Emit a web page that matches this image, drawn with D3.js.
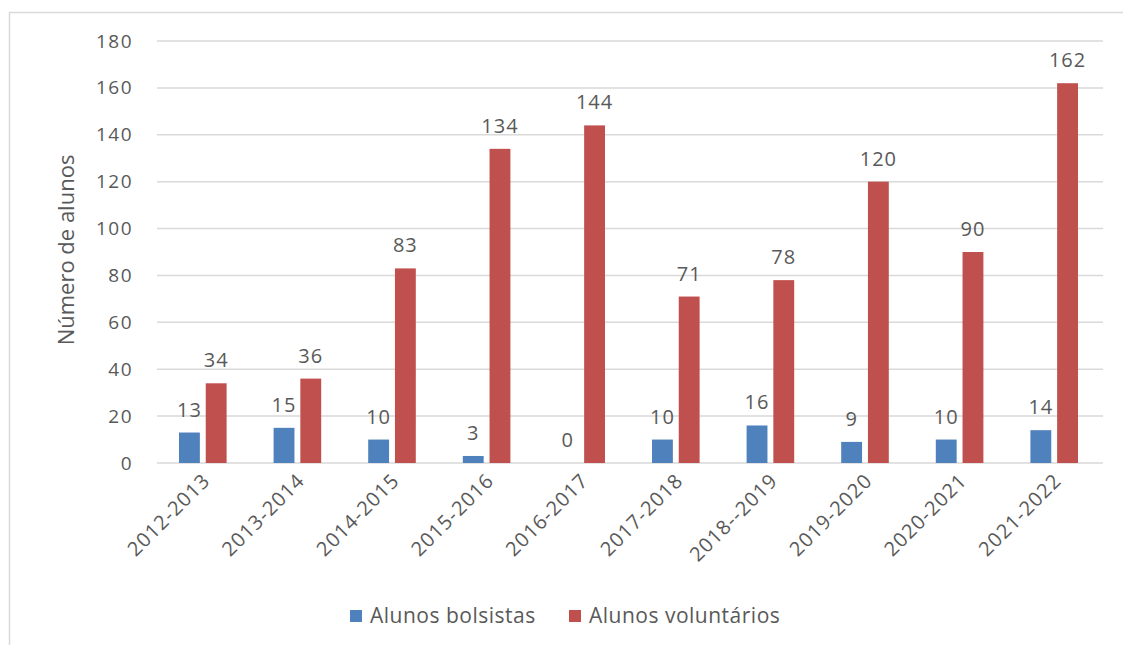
<!DOCTYPE html>
<html>
<head>
<meta charset="utf-8">
<script src="https://cdn.jsdelivr.net/npm/d3@7"></script>
<style>
  body { margin: 0; background: #fff; }
  text { font-family: "Open Sans", "DejaVu Sans", sans-serif; fill: #595959; }
</style>
</head>
<body>
<div id="vis"></div>
<script>
const margin = { top: 41, right: 20, bottom: 182, left: 157 };
const width = 1103 - margin.left;
const height = 463 - margin.top;

// data
const years = ['2012-2013', '2013-2014', '2014-2015', '2015-2016', '2016-2017',
               '2017-2018', '2018--2019', '2019-2020', '2020-2021', '2021-2022'];
const bolsistas = [13, 15, 10, 3, 0, 10, 16, 9, 10, 14];
const voluntarios = [34, 36, 83, 134, 144, 71, 78, 120, 90, 162];
const seriesNames = ['Alunos bolsistas', 'Alunos voluntários'];
const colors = ['#4f81bd', '#c0504d'];
const yTicks = [0, 20, 40, 60, 80, 100, 120, 140, 160, 180];

const root = d3.select('#vis')
    .append('svg')
    .attr('width', 1123)
    .attr('height', 645);

// outer frame of the chart
root.append('rect')
    .attr('x', 9.5).attr('y', 12.5)
    .attr('width', 1140).attr('height', 660)
    .style('fill', 'none')
    .style('stroke', '#d9d9d9')
    .style('stroke-width', 1.5);

const svg = root.append('g')
    .attr('transform', `translate(${margin.left},${margin.top})`);

const xScale = d3.scaleBand().domain(years).range([0, width]);
const xInner = d3.scaleBand().domain([0, 1]).range([22, xScale.bandwidth() - 25]).paddingInner(0.22);
const yScale = d3.scaleLinear().domain([0, 180]).range([height, 0]);

// gridlines
svg.selectAll('.grid')
    .data(yTicks)
    .join('line')
    .attr('class', 'grid')
    .attr('x1', 0).attr('x2', width)
    .attr('y1', d => yScale(d)).attr('y2', d => yScale(d))
    .style('stroke', '#d9d9d9')
    .style('stroke-width', 1.5);

// y axis
const yAxis = svg.append('g')
    .call(d3.axisLeft(yScale).tickValues(yTicks).tickSize(0).tickPadding(24));
yAxis.select('.domain').remove();
yAxis.selectAll('text').style('font-size', '19px').style('fill', '#595959')
    .style('letter-spacing', '1.5px')
    .style('font-family', '"Open Sans", sans-serif');

// x axis labels
const xAxis = svg.append('g')
    .attr('transform', `translate(0,${height})`)
    .call(d3.axisBottom(xScale).tickSize(0));
xAxis.select('.domain').remove();
xAxis.selectAll('text')
    .attr('text-anchor', 'end')
    .attr('transform', 'translate(2,14) rotate(-45)')
    .attr('dy', '0.35em')
    .attr('y', 0)
    .style('font-size', '20px')
    .style('letter-spacing', '1px')
    .style('fill', '#595959')
    .style('font-family', '"Open Sans", sans-serif');

// y title
svg.append('text')
    .attr('transform', 'rotate(-90)')
    .attr('x', -height / 2 + 2)
    .attr('y', -margin.left + 74)
    .attr('text-anchor', 'middle')
    .style('font-size', '22px')
    .text('Número de alunos');

const groups = [bolsistas, voluntarios];
groups.forEach((vals, s) => {
    svg.selectAll('.bar' + s)
        .data(vals)
        .join('rect')
        .attr('class', 'bar' + s)
        .attr('x', (d, i) => xScale(years[i]) + xInner(s))
        .attr('width', xInner.bandwidth())
        .attr('y', d => yScale(d))
        .attr('height', d => height - yScale(d))
        .style('fill', colors[s]);

    svg.selectAll('.lab' + s)
        .data(vals)
        .join('text')
        .attr('class', 'lab' + s)
        .attr('x', (d, i) => xScale(years[i]) + xInner(s) + xInner.bandwidth() / 2)
        .attr('y', d => yScale(d) - 16)
        .attr('text-anchor', 'middle')
        .style('font-size', '20px')
        .style('letter-spacing', '1px')
        .text(d => d);
});

// legend
const legendX = [350, 569];
const legend = root.append('g');
seriesNames.forEach((name, i) => {
    legend.append('rect')
        .attr('x', legendX[i]).attr('y', 610)
        .attr('width', 12).attr('height', 12)
        .style('fill', colors[i]);
    legend.append('text')
        .attr('x', legendX[i] + 20).attr('y', 623)
        .style('font-size', '21px')
        .style('letter-spacing', '0.5px')
        .text(name);
});
</script>
</body>
</html>
